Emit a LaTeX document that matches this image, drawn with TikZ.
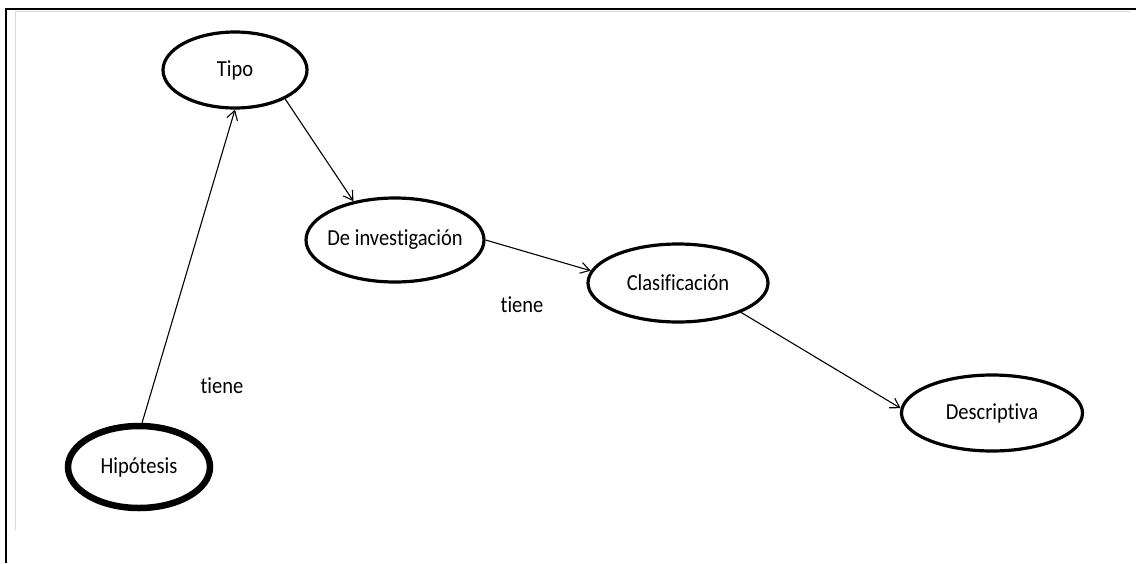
\documentclass[tikz,border=0pt]{standalone}
\usepackage{fontspec}
\setmainfont[Ligatures=NoCommon]{Carlito}
\usetikzlibrary{shapes.geometric,arrows.meta}
% concept text: stretched a little in height, zero width so the ellipse keeps its set size
\newcommand{\ctext}[1]{\makebox[0pt]{\scalebox{1}[1.12]{#1}}}
\begin{document}
\begin{tikzpicture}[x=1pt,y=-1pt,
  concept/.style={ellipse,draw=black,line width=3.2pt,fill=white,inner sep=0pt,
    font=\fontsize{20.5}{24}\selectfont},
  link/.style={draw=black,line width=1.1pt,-{Straight Barb[length=9pt,width=11pt,line width=1.1pt]}},
  lbl/.style={font=\fontsize{20.5}{24}\selectfont}]
  \useasboundingbox (0,0) rectangle (1136,563);
  % page frame
  \draw[line width=2.5pt] (6,563) -- (6,9) -- (1136,9);
  \draw[line width=1pt,black!15] (15.5,530) -- (15.5,11) -- (1130,11);

  % concepts
  \node[concept,minimum width=144pt,minimum height=76pt] (tipo) at (235,70) {\ctext{Tipo}};
  \node[concept,minimum width=178pt,minimum height=84pt] (inv) at (395,240) {\ctext{De investigación}};
  \node[concept,minimum width=180pt,minimum height=78pt] (clas) at (678,283) {\ctext{Clasificación}};
  \node[concept,minimum width=181pt,minimum height=76pt] (desc) at (992,413) {\ctext{Descriptiva}};
  \node[concept,line width=6.5pt,minimum width=142pt,minimum height=82pt] (hip) at (139,467) {\ctext{Hipótesis}};

  % connectors
  \draw[link] (hip.86) -- (tipo.-90);
  \draw[link] (tipo.-30) -- (inv.137);
  \draw[link] (inv.0) -- (clas.172);
  \draw[link] (clas.-25) -- (desc.177);

  % labels
  \node[lbl] (t1) at (222,386) {\scalebox{1}[1.12]{tiene}};
  \node[lbl] (t2) at (522,305) {\scalebox{1}[1.12]{tiene}};
\end{tikzpicture}
\end{document}
